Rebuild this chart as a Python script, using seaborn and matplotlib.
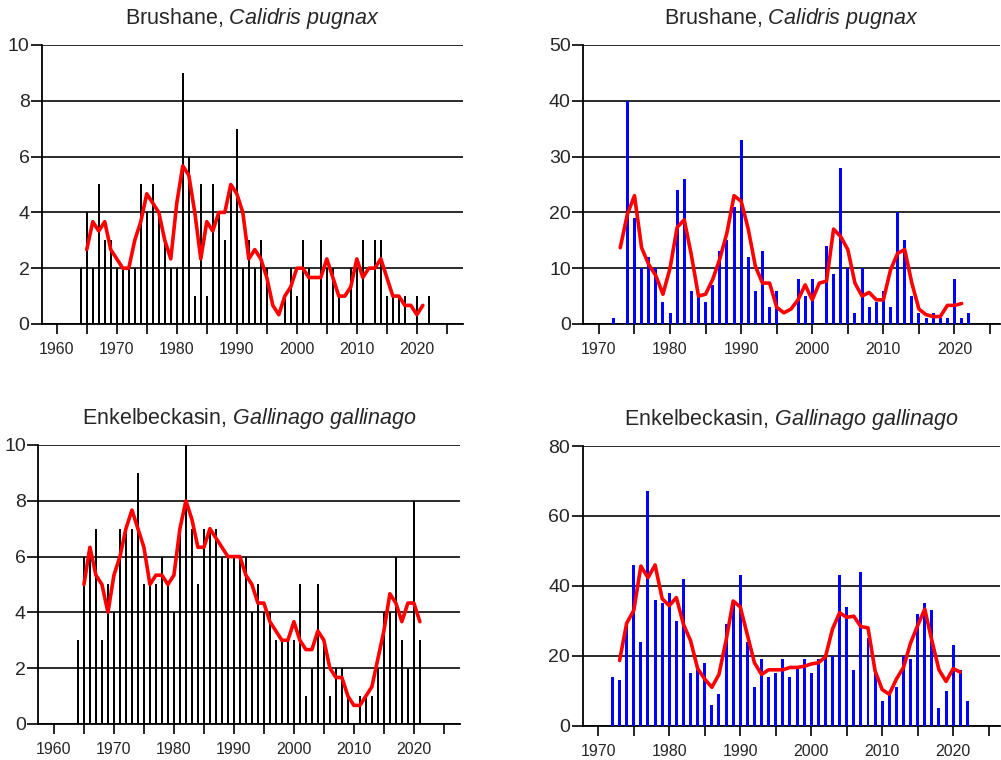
import matplotlib
matplotlib.use("Agg")
import numpy as np
import pandas as pd
import matplotlib.pyplot as plt
import seaborn as sns

# Brushane, inventering A (svart) 1964-2022
brushane_a_years = list(range(1964, 2023))
brushane_a_counts = [2, 4, 2, 5, 3, 3, 2, 2, 2, 2,
                     5, 4, 5, 4, 3, 2, 2, 9, 6, 1,
                     5, 1, 5, 4, 3, 5, 7, 2, 3, 2,
                     3, 2, 0, 0, 1, 2, 1, 3, 2, 0,
                     3, 2, 2, 1, 0, 2, 2, 3, 0, 3,
                     3, 1, 1, 1, 1, 0, 1, 0, 1]

# Brushane, inventering B (blå) 1972-2022
brushane_b_years = list(range(1972, 2023))
brushane_b_counts = [1, 0, 40, 19, 10, 12, 10, 4, 2, 24,
                     26, 6, 5, 4, 7, 13, 15, 21, 33, 12,
                     6, 13, 3, 6, 0, 0, 8, 5, 8, 0,
                     14, 9, 28, 10, 2, 10, 3, 4, 6, 3,
                     20, 15, 5, 2, 1, 2, 1, 1, 8, 1,
                     2]

# Enkelbeckasin, inventering A (svart) 1964-2022
enkel_a_years = list(range(1964, 2023))
enkel_a_counts = [3, 6, 6, 7, 3, 5, 4, 7, 7, 7,
                  9, 5, 5, 5, 6, 5, 4, 7, 10, 7,
                  5, 7, 7, 7, 6, 6, 6, 6, 6, 4,
                  5, 4, 4, 3, 3, 3, 3, 5, 1, 2,
                  5, 3, 1, 2, 2, 1, 0, 1, 1, 1,
                  2, 4, 4, 6, 3, 2, 8, 3, 0]

# Enkelbeckasin, inventering B (blå) 1972-2022
enkel_b_years = list(range(1972, 2023))
enkel_b_counts = [14, 13, 29, 46, 24, 67, 36, 35, 38, 30,
                  42, 15, 16, 18, 6, 9, 29, 35, 43, 24,
                  11, 19, 14, 15, 19, 14, 17, 19, 15, 19,
                  20, 20, 43, 34, 16, 44, 25, 15, 7, 9,
                  11, 20, 19, 32, 35, 33, 5, 10, 23, 16,
                  7]

sns.set_style("white")
plt.rcParams["font.family"] = ["Liberation Sans", "DejaVu Sans"]
plt.rcParams["mathtext.fontset"] = "custom"
plt.rcParams["mathtext.rm"] = "Liberation Sans"
plt.rcParams["mathtext.it"] = "Liberation Sans:italic"


def draw_panel(ax, years, counts, color, width, ymax, ystep, xlim, first_tick, name, latin):
    df = pd.DataFrame({"year": years, "count": counts})
    # 3-års glidande medelvärde
    df["mean3"] = df["count"].rolling(3, center=True).mean()

    sns.barplot(data=df, x="year", y="count", native_scale=True, color=color,
                saturation=1, width=width, errorbar=None, linewidth=0,
                ax=ax, zorder=3)
    sns.lineplot(data=df, x="year", y="mean3", color="#ff0000", lw=2.6,
                 ax=ax, zorder=5)

    ax.set_xlim(*xlim)
    ax.set_ylim(0, ymax)
    ax.set_yticks(np.arange(0, ymax + 1, ystep))
    xt = list(range(first_tick, 2030, 5))
    ax.set_xticks(xt)
    ax.set_xticklabels([str(t) if t % 10 == 0 else "" for t in xt])
    ax.yaxis.grid(True, color="#1a1a1a", lw=1.3)
    ax.xaxis.grid(False)
    ax.set_axisbelow(True)
    for s in ["top", "right"]:
        ax.spines[s].set_visible(False)
    for s in ["left", "bottom"]:
        ax.spines[s].set_color("black")
        ax.spines[s].set_linewidth(1.3)
    ax.tick_params(axis="x", length=7, width=1.2, pad=6, labelsize=11.5,
                   direction="out", bottom=True, color="black")
    ax.tick_params(axis="y", length=8, width=1.2, pad=1, labelsize=14,
                   direction="out", left=True, color="black")
    ax.set_xlabel("")
    ax.set_ylabel("")
    ax.set_title(name + r", $\mathit{" + latin.replace(" ", r"\ ") + "}$",
                 fontsize=15.5, pad=15)


fig = plt.figure(figsize=(10.01, 7.60), dpi=100)
ax1 = fig.add_axes([0.0420, 0.5737, 0.4206, 0.3671])
ax2 = fig.add_axes([0.5827, 0.5737, 0.4163, 0.3671])
ax3 = fig.add_axes([0.0383, 0.0474, 0.4213, 0.3671])
ax4 = fig.add_axes([0.5821, 0.0451, 0.4169, 0.3680])

draw_panel(ax1, brushane_a_years, brushane_a_counts, "#000000", 0.33, 10, 2,
           (1957.55, 2027.7), 1960, "Brushane", "Calidris pugnax")
draw_panel(ax2, brushane_b_years, brushane_b_counts, "#0000ff", 0.42, 50, 10,
           (1967.8, 2026.4), 1970, "Brushane", "Calidris pugnax")
draw_panel(ax3, enkel_a_years, enkel_a_counts, "#000000", 0.33, 10, 2,
           (1957.4, 2027.7), 1960, "Enkelbeckasin", "Gallinago gallinago")
draw_panel(ax4, enkel_b_years, enkel_b_counts, "#0000ff", 0.42, 80, 20,
           (1967.8, 2026.6), 1970, "Enkelbeckasin", "Gallinago gallinago")

fig.savefig("out.png", dpi=100)
